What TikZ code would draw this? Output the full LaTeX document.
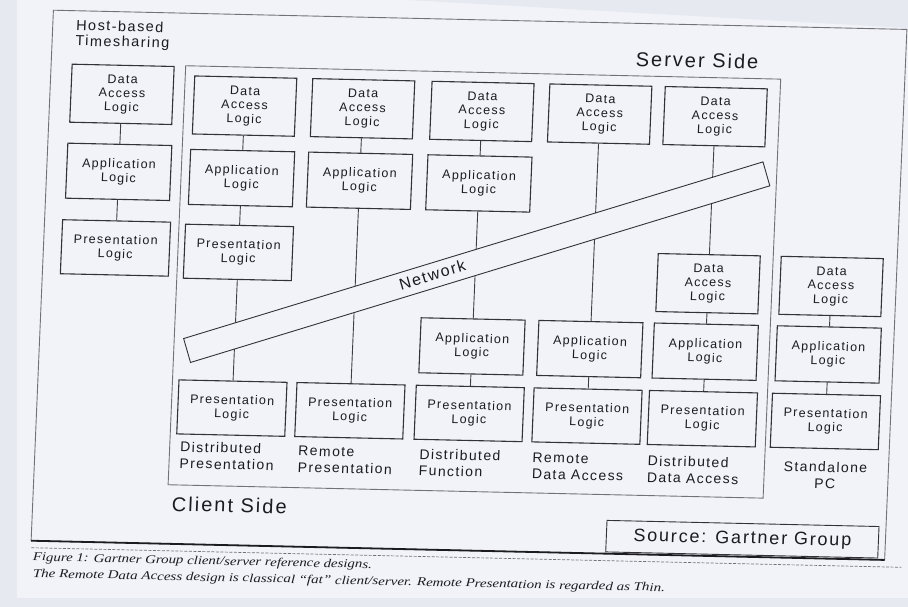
\documentclass[tikz,border=0pt]{standalone}
\usepackage{fontspec}
\usepackage{graphicx}
\setmainfont{Liberation Sans}[LetterSpace=10]
\newfontfamily\captionserif{Liberation Serif}
\definecolor{paper}{RGB}{241,243,248}
\definecolor{margin}{RGB}{230,233,239}
\definecolor{boxline}{RGB}{50,50,56}
\definecolor{wire}{RGB}{62,62,68}
\definecolor{ink}{RGB}{28,28,32}
\definecolor{rule}{RGB}{112,114,120}
\tikzset{
  blk/.style={draw=boxline, line width=1.1pt, fill=paper, align=center, inner sep=0pt,
    text=ink, font=\fontsize{12.5}{14}\selectfont},
  dal/.style={blk, minimum width=102pt, minimum height=58pt},
  apl/.style={blk, minimum width=104pt, minimum height=55pt},
  prl/.style={blk, minimum width=108pt, minimum height=54pt},
  link/.style={draw=wire, line width=0.9pt},
  design/.style={align=left, anchor=west, inner sep=0pt, text=ink,
    font=\fontsize{14}{16.5}\selectfont},
  sidelabel/.style={anchor=west, inner sep=0pt, text=ink, font=\fontsize{20}{22}\selectfont},
  frameline/.style={draw=rule, line width=0.9pt},
  captionline/.style={anchor=west, inner sep=0pt, text=ink,
    font=\captionserif\itshape\fontsize{12}{14}\selectfont},
}
\begin{document}
\begin{tikzpicture}[x=1pt,y=-1pt]
% sheet and scanner margins
\fill[paper] (0,0) rectangle (908,607);
\useasboundingbox (0,0) rectangle (908,607);
\fill[margin] (0,0) rectangle (17,607);
\fill[margin] (0,598) rectangle (908,607);
\fill[margin] (407,0) -- (908,0) -- (908,28) -- (550,8) -- cycle;

\begin{scope}[cm={1,-0.0225,0.042,1,(12.726pt,10.215pt)},
              every node/.append style={transform shape}]

% outer frame and rules
\draw[frameline] (41.5,19.5) rectangle (895,550);
\draw[draw=ink, line width=1.8pt] (41.5,550) -- (895,550);
\draw[draw=rule, line width=0.7pt, dash pattern=on 3pt off 1.5pt] (42,557) -- (912,557);

% client/server frame
\draw[frameline] (176,72) rectangle (771,491);

\node[anchor=west, align=left, inner sep=0pt, text=ink,
      font=\fontsize{14.5}{15.5}\selectfont] (host) at (64.8,43) {Host-based\\Timesharing};
\node[sidelabel, anchor=center] (server) at (686.7,55) {Server Side};
\node[sidelabel] (client) at (180.5,510) {Client Side};

% host-based timesharing
\node[dal] (htd) at (113.5,102)   {Data\\Access\\Logic};
\node[apl] (hta) at (113.5,179.5) {Application\\Logic};
\node[prl] (htp) at (113.5,255.6) {Presentation\\Logic};

% distributed presentation
\node[dal] (dpd) at (236.5,111)   {Data\\Access\\Logic};
\node[apl] (dpa) at (236.5,183)   {Application\\Logic};
\node[prl] (dpp) at (236.5,257.3) {Presentation\\Logic};
\node[prl] (dpc) at (236.5,413)   {Presentation\\Logic};

% remote presentation
\node[dal] (rpd) at (354.5,111) {Data\\Access\\Logic};
\node[apl] (rpa) at (354.5,183) {Application\\Logic};
\node[prl] (rpc) at (354.5,413) {Presentation\\Logic};

% distributed function
\node[dal] (dfd) at (473.8,111) {Data\\Access\\Logic};
\node[apl] (dfa) at (473.8,183) {Application\\Logic};
\node[apl] (dfb) at (473.8,346) {Application\\Logic};
\node[prl] (dfc) at (473.8,413) {Presentation\\Logic};

% remote data access
\node[dal] (rdd) at (591.6,111) {Data\\Access\\Logic};
\node[apl] (rda) at (591.6,346) {Application\\Logic};
\node[prl] (rdc) at (591.6,413) {Presentation\\Logic};

% distributed data access
\node[dal] (ddd) at (707,111) {Data\\Access\\Logic};
\node[dal] (dde) at (707,278) {Data\\Access\\Logic};
\node[apl] (dda) at (707,346) {Application\\Logic};
\node[prl] (ddc) at (707,413) {Presentation\\Logic};

% standalone PC
\node[dal] (spd) at (830,278) {Data\\Access\\Logic};
\node[apl] (spa) at (830,346) {Application\\Logic};
\node[prl] (spc) at (830,413) {Presentation\\Logic};

% tier connections
\foreach \u/\v in {htd/hta, hta/htp, dpd/dpa, dpa/dpp, dpp/dpc, rpd/rpa, rpa/rpc,
                   dfd/dfa, dfa/dfb, dfb/dfc, rdd/rda, rda/rdc,
                   ddd/dde, dde/dda, dda/ddc, spd/spa, spa/spc}
  \draw[link] (\u.south) -- (\v.north);

% the network band crossing the tiers, its name set left of centre
\node[draw=boxline, line width=0.9pt, fill=paper, rotate=18.35,
      minimum width=602pt, minimum height=25pt, inner sep=0pt, text=ink,
      font=\fontsize{16}{18}\selectfont] (net) at (475,261.7)
      {\raisebox{1.5pt}{Network}\hspace*{92pt}};

% design names
\node[design] (ldp) at (186.4,461) {Distributed\\Presentation};
\node[design] (lrp) at (304.6,462.5) {Remote\\Presentation};
\node[design] (ldf) at (425.7,463) {Distributed\\Function};
\node[design] (lrd) at (538.9,464) {Remote\\Data Access};
\node[design] (ldd) at (654,464.5) {Distributed\\Data Access};
\node[design, align=center, anchor=center] (lsp) at (832,466.7) {Standalone\\PC};

% source box
\node[draw=boxline, line width=0.9pt, fill=paper, minimum width=272pt, minimum height=31.5pt,
      inner sep=0pt, text=ink, font=\fontsize{18}{20}\selectfont] (src) at (752,532.5)
      {Source: Gartner Group};

% caption
\node[captionline] (cap1) at (43.8,567)
  {\resizebox{339pt}{\height}{Figure 1: Gartner Group client/server reference designs.}};
\node[captionline] (cap2) at (44.5,583.5)
  {\resizebox{632pt}{\height}{The Remote Data Access design is classical “fat” client/server. Remote Presentation is regarded as Thin.}};
\end{scope}
\end{tikzpicture}
\end{document}
